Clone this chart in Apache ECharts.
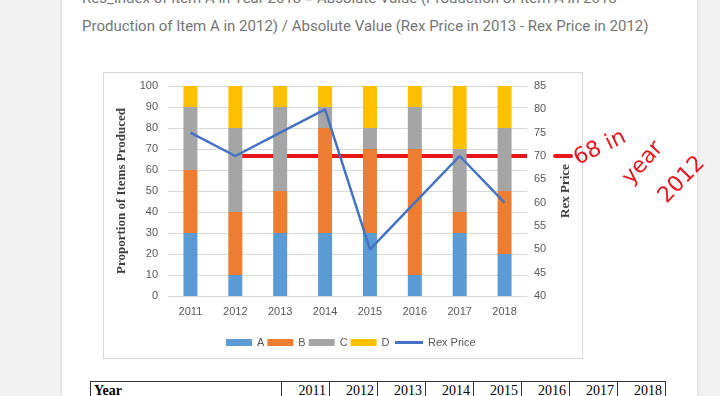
<!DOCTYPE html>
<html lang="en">
<head>
  <meta charset="UTF-8">
  <title>Rex Price</title>
  <style>
    body { margin: 0; background: #f2f2f2; width: 720px; height: 396px; overflow: hidden; position: relative; }
    .card { position: absolute; left: 62px; top: -20px; width: 635px; height: 440px; background: #fff; box-shadow: 0 0 4px rgba(0,0,0,0.15); }
    .title { position: absolute; left: 82px; top: -16px; width: 600px; font: 15px/28px Roboto, sans-serif; color: #757575; white-space: nowrap; }
    .box { position: absolute; left: 103px; top: 72px; width: 478px; height: 285px; border: 1px solid #d9d9d9; }
    table { position: absolute; left: 90px; top: 381px; border-collapse: collapse; font: 14px 'Liberation Serif', serif; }
    td { border: 1px solid #333; padding: 0 3px; height: 18px; text-align: right; width: 41px; }
    td.h { text-align: left; font-weight: bold; width: 184px; }
    #main { position: absolute; left: 0; top: 0; width: 720px; height: 396px; }
  </style>
</head>
<body>
  <div class="card"></div>
  <div class="title">Res_Index of Item A in Year 2013 = Absolute Value (Production of Item A in 2013 -<br>Production of Item A in 2012) / Absolute Value (Rex Price in 2013 - Rex Price in 2012)</div>
  <div class="box"></div>
  <table><tr><td class="h">Year</td><td>2011</td><td>2012</td><td>2013</td><td>2014</td><td>2015</td><td>2016</td><td>2017</td><td>2018</td></tr></table>
  <div id="main"></div>

  <script src="https://cdn.jsdelivr.net/npm/echarts@6/dist/echarts.min.js"></script>
  <script>
    // data
    var years = ['2011', '2012', '2013', '2014', '2015', '2016', '2017', '2018'];
    var itemA = [30, 10, 30, 30, 30, 10, 30, 20];
    var itemB = [30, 30, 20, 50, 40, 60, 10, 30];
    var itemC = [30, 40, 40, 10, 10, 20, 30, 30];
    var itemD = [10, 20, 10, 10, 20, 10, 30, 20];
    var rexPrice = [75, 70, 75, 80, 50, 60, 70, 60];
    var markedPrice = 70;

    var myChart = echarts.init(document.getElementById('main'));
    var labelFont = { color: '#595959', fontSize: 11, fontFamily: 'Liberation Sans' };
    var nameFont = { color: '#404040', fontSize: 13, fontWeight: 'bold', fontFamily: 'Liberation Serif' };

    function bar(name, data, color) {
      return { name: name, type: 'bar', stack: 'p', barWidth: 14, data: data, itemStyle: { color: color } };
    }

    var option = {
      animation: false,
      grid: { left: 168, right: 193, top: 86, bottom: 100 },
      legend: [{
        top: 332, left: 221,
        itemWidth: 26, itemHeight: 7, itemGap: 3,
        textStyle: labelFont,
        icon: 'rect',
        data: ['A', 'B', 'C', 'D']
      }, {
        top: 332, left: 390,
        itemWidth: 28, itemHeight: 3,
        textStyle: labelFont,
        icon: 'rect',
        data: ['Rex Price']
      }],
      xAxis: {
        type: 'category', data: years,
        axisTick: { show: false },
        axisLine: { lineStyle: { color: '#d9d9d9' } },
        axisLabel: Object.assign({ margin: 10 }, labelFont)
      },
      yAxis: [{
        type: 'value', min: 0, max: 100, interval: 10,
        name: 'Proportion of Items Produced', nameLocation: 'middle', nameGap: 40,
        nameTextStyle: nameFont,
        axisLabel: Object.assign({ margin: 10 }, labelFont),
        splitLine: { lineStyle: { color: '#d9d9d9' } }
      }, {
        type: 'value', min: 40, max: 85, interval: 5,
        name: 'Rex Price', nameLocation: 'middle', nameGap: 32,
        nameTextStyle: nameFont,
        axisLabel: Object.assign({ margin: 7 }, labelFont),
        splitLine: { show: false }
      }],
      series: [
        bar('A', itemA, '#5b9bd5'),
        bar('B', itemB, '#ed7d31'),
        bar('C', itemC, '#a5a5a5'),
        bar('D', itemD, '#ffc000'),
        {
          name: 'Rex Price', type: 'line', yAxisIndex: 1, data: rexPrice,
          symbol: 'none', lineStyle: { color: '#4472c4', width: 2.5 }, itemStyle: { color: '#4472c4' }
        }
      ]
    };
    myChart.setOption(option);

    // hand-drawn red annotation on top of the chart
    var p = myChart.convertToPixel({ xAxisIndex: 0, yAxisIndex: 1 }, ['2012', markedPrice]);
    var red = '#e8161b';
    var hand = { fill: red, font: '22px "DejaVu Sans"', textAlign: 'center', textVerticalAlign: 'middle' };
    myChart.setOption({
      graphic: [
        { type: 'line', shape: { x1: p[0], y1: p[1], x2: 527, y2: p[1] }, style: { stroke: red, lineWidth: 4 } },
        { type: 'line', shape: { x1: 555, y1: p[1], x2: 571, y2: p[1] }, style: { stroke: red, lineWidth: 4, lineCap: 'round' } },
        { type: 'text', x: 600, y: 148, rotation: 0.45, style: Object.assign({ text: '68 in' }, hand) },
        { type: 'text', x: 643, y: 163, rotation: 0.85, style: Object.assign({ text: 'year' }, hand) },
        { type: 'text', x: 682, y: 180, rotation: 0.8, style: Object.assign({ text: '2012' }, hand) }
      ]
    });
  </script>
</body>
</html>
